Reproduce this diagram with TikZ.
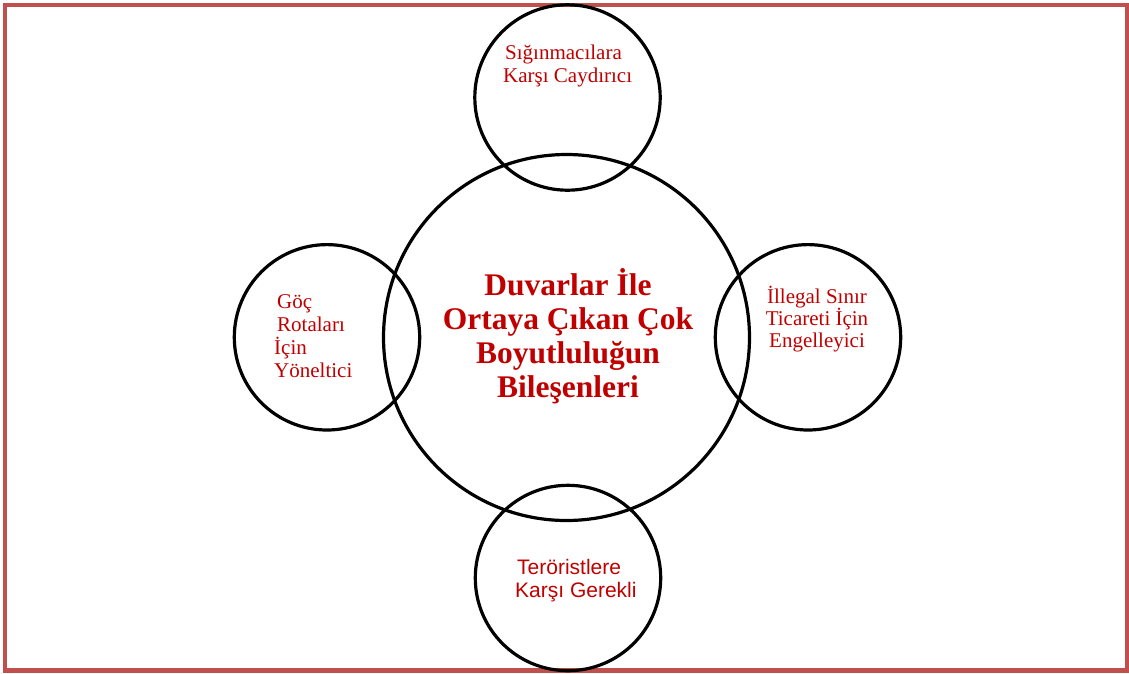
\documentclass[tikz,border=0pt]{standalone}
\usepackage{fontspec}
\setmainfont{Liberation Serif}
\newfontfamily\arialfont{Liberation Sans}
\definecolor{frame}{RGB}{192,80,77}
\definecolor{txtred}{RGB}{192,0,0}
\tikzset{
  ring/.style={draw=black,line width=3.2pt},
  lbl/.style={text=txtred,inner sep=0pt,font=\fontsize{21}{22.5}\selectfont},
  ctr/.style={text=txtred,inner sep=0pt,align=center,font=\fontsize{31.5}{33.7}\selectfont\bfseries}
}
\begin{document}
\begin{tikzpicture}[x=1pt,y=-1pt]
\useasboundingbox (0,0) rectangle (1129,673);
\draw[frame,line width=4.7pt] (5,5) rectangle (1127,670.5);
\path[ring] (566.5,337.5) circle[radius=183pt];
\path[ring] (567.5,97.5) circle[radius=92.7pt];
\path[ring] (327,337.3) circle[radius=92.7pt];
\path[ring] (808,337.3) circle[radius=92.7pt];
\path[ring] (568,578) circle[radius=92.7pt];
\coordinate (cc) at (568,397);
\coordinate (tc) at (503,82);
\coordinate (lc) at (274,377);
\coordinate (rc) at (817,347);
\coordinate (bc) at (515,597);
\node[ctr,anchor=base] (center) at (cc) {Duvarlar İle\\Ortaya Çıkan Çok\\Boyutluluğun\\Bileşenleri};
\node[lbl,anchor=base west,align=left] (top) at (tc) {\hspace*{2pt}Sığınmacılara\\Karşı Caydırıcı};
\node[lbl,anchor=base west,align=left,font=\fontsize{21}{22.7}\selectfont] (left) at (lc) {\hspace*{3pt}Göç\\\hspace*{3pt}Rotaları\\İçin\\Yöneltici};
\node[lbl,anchor=base,align=center,font=\fontsize{21}{22}\selectfont] (right) at (rc) {İllegal Sınır\\Ticareti İçin\\Engelleyici};
\node[lbl,anchor=base west,align=left,font=\arialfont\fontsize{21}{23}\selectfont] (bottom) at (bc) {\hspace*{2pt}Teröristlere\\Karşı Gerekli};
\end{tikzpicture}
\end{document}
